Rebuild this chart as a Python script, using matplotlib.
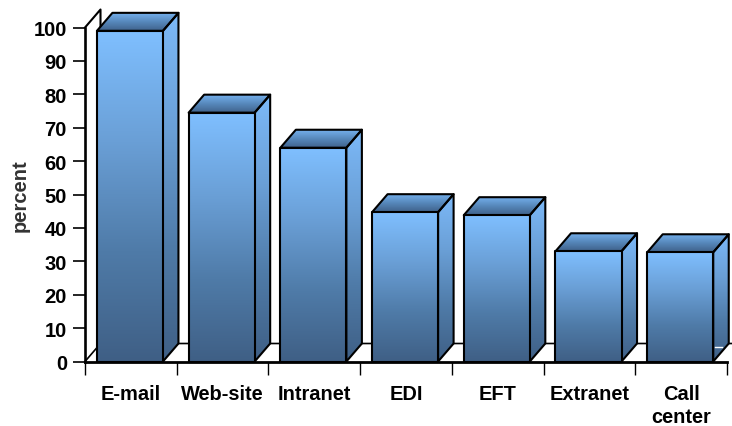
import numpy as np
import matplotlib
matplotlib.use("Agg")
import matplotlib.pyplot as plt
from matplotlib.colors import LinearSegmentedColormap
from matplotlib.patches import Polygon

categories = ["E-mail", "Web-site", "Intranet", "EDI", "EFT", "Extranet", "Call\ncenter"]
values = [99, 74.5, 64, 44.7, 43.8, 33, 32.7]
yticks = list(range(0, 101, 10))

plt.rcParams['font.family'] = ['Liberation Sans', 'DejaVu Sans']
W, H = 732, 427
fig = plt.figure(figsize=(W / 100, H / 100), dpi=100)
ax = fig.add_axes([85 / W, 64.5 / H, 642 / W, 334 / H])
ax.set_xlim(0, len(categories))
ax.set_ylim(0, 100)

DX = 15.5 / (642 / len(categories))
DY = 18 / 3.34
BAR_L, BAR_W = 0.13, 0.72
LW = 1.5

front_cmap = LinearSegmentedColormap.from_list("f", ["#3f5f85", "#4f7ba8", "#6a9fd6", "#7fbfff"])
side_cmap = LinearSegmentedColormap.from_list("s", ["#3f5f85", "#4f7ba8", "#6a9fd6", "#7cb9f8"])
top_cmap = LinearSegmentedColormap.from_list("t", ["#3f618a", "#5687ba", "#74afec"])
grad = np.linspace(0, 1, 256).reshape(-1, 1)


def face(points, cmap, z):
    xs = [p[0] for p in points]
    ys = [p[1] for p in points]
    im = ax.imshow(grad, origin="lower", aspect="auto", cmap=cmap, zorder=z,
                   extent=[min(xs), max(xs), min(ys), max(ys)])
    im.set_clip_box(fig.bbox)
    clip = Polygon(points, closed=True, transform=ax.transData)
    im.set_clip_path(clip)
    ax.add_patch(Polygon(points, closed=True, fill=False, edgecolor="black", lw=LW,
                         joinstyle="round", zorder=z + 0.1, clip_on=False))


# back wall and floor
ax.add_patch(Polygon([(0, 0), (DX, DY), (len(categories) + DX * 0.3, DY), (len(categories), 0)],
                     closed=True, facecolor="white", edgecolor="none", zorder=1, clip_on=False))
ax.plot([0, DX, len(categories) + DX * 0.3], [0, DY, DY], color="black", lw=1.2, zorder=1.5, clip_on=False)
ax.plot([0, DX, DX], [100, 100 + DY, DY], color="black", lw=1.5, zorder=1.5, clip_on=False)

for i, v in enumerate(values):
    l, r = i + BAR_L, i + BAR_L + BAR_W
    z = 3 + i
    face([(r, 0), (r + DX, DY), (r + DX, v + DY), (r, v)], side_cmap, z)
    face([(l, v), (r, v), (r + DX, v + DY), (l + DX, v + DY)], top_cmap, z)
    face([(l, 0), (r, 0), (r, v), (l, v)], front_cmap, z + 0.3)

# short pale stroke on the last bar's side face
ax.plot([6.87, 6.95], [4.2, 4.2], color="white", lw=1.0, zorder=15, clip_on=False)

for s in ("top", "right"):
    ax.spines[s].set_visible(False)
ax.spines["left"].set_linewidth(1.9)
ax.spines["bottom"].set_linewidth(2.0)
ax.spines["left"].set_zorder(20)
ax.spines["bottom"].set_zorder(20)

ax.set_yticks(yticks)
ax.set_yticklabels([str(t) for t in yticks], fontsize=14.5, fontweight="bold")
ax.tick_params(axis="y", length=8.5, width=1.2, pad=4.5)
ax.set_xticks(range(len(categories) + 1))
ax.set_xticklabels([])
ax.tick_params(axis="x", which="major", length=9.5, width=1.0)
ax.set_xticks([i + 0.5 for i in range(len(categories))], minor=True)
ax.set_xticklabels(categories, minor=True, fontsize=14.4, fontweight="bold", linespacing=1.3)
ax.tick_params(axis="x", which="minor", length=0, pad=16)
ax.set_ylabel("percent", fontsize=14.5, fontweight="bold", color="#333333")
ax.yaxis.set_label_coords(-55 / 642, 0.5)

fig.savefig("out.png", dpi=100)
